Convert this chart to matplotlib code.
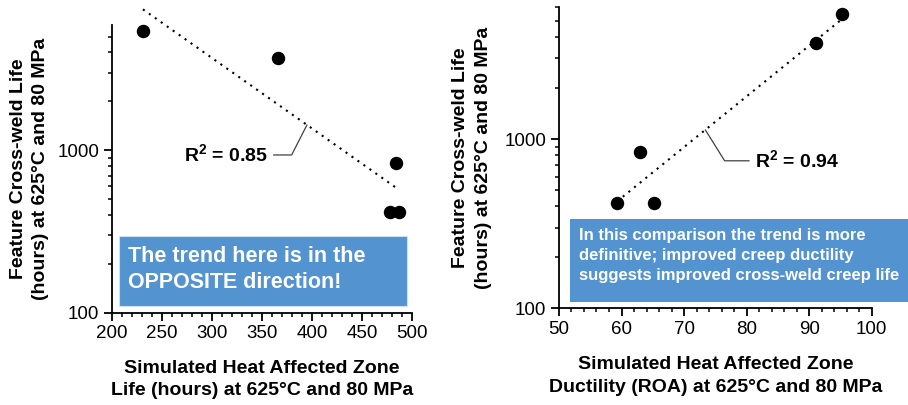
import matplotlib
matplotlib.use("Agg")
import matplotlib.pyplot as plt
import matplotlib.ticker as mticker
from matplotlib.patches import Rectangle
import numpy as np

plt.rcParams['font.family'] = ['Liberation Sans', 'DejaVu Sans']
plt.rcParams['mathtext.fontset'] = 'custom'
plt.rcParams['mathtext.rm'] = 'Liberation Sans'
plt.rcParams['mathtext.bf'] = 'Liberation Sans:bold'

# feature cross-weld life (hours) at 625C / 80 MPa
cw_life = [5450, 3700, 840, 420, 420]
# simulated HAZ life (hours) and ductility (ROA %) for the same samples
haz_life = [231, 366, 484, 478, 487]
haz_roa = [95.3, 91.1, 62.9, 59.3, 65.2]

ylabel = "Feature Cross-weld Life\n(hours) at 625°C and 80 MPa"
xlabel_left = "Simulated Heat Affected Zone\nLife (hours) at 625°C and 80 MPa"
xlabel_right = "Simulated Heat Affected Zone\nDuctility (ROA) at 625°C and 80 MPa"
r2_left = r"R$^{\mathbf{2}}$ = 0.85"
r2_right = r"R$^{\mathbf{2}}$ = 0.94"
note_left = "The trend here is in the\nOPPOSITE direction!"
note_right = ("In this comparison the trend is more\n"
              "definitive; improved creep ductility\n"
              "suggests improved cross-weld creep life")

box_col = '#5393D0'

fig = plt.figure(figsize=(9.08, 4.05), dpi=100)
axL = fig.add_axes([0.1233, 0.2272, 0.3304, 0.711])
axR = fig.add_axes([0.6156, 0.2388, 0.3444, 0.743])


def style(ax, xlim, ylim, xmaj, xmin):
    ax.set_yscale('log')
    ax.set_xlim(*xlim)
    ax.set_ylim(*ylim)
    for s in ['top', 'right']:
        ax.spines[s].set_visible(False)
    for s in ['left', 'bottom']:
        ax.spines[s].set_linewidth(1.3)
    ax.xaxis.set_major_locator(mticker.MultipleLocator(xmaj))
    ax.xaxis.set_minor_locator(mticker.MultipleLocator(xmin))
    ax.yaxis.set_major_locator(mticker.LogLocator(base=10))
    ax.yaxis.set_minor_locator(mticker.LogLocator(base=10, subs=np.arange(2, 10)))
    ax.yaxis.set_major_formatter(mticker.FuncFormatter(lambda v, p: f"{v:g}"))
    ax.yaxis.set_minor_formatter(mticker.NullFormatter())
    ax.tick_params(which='major', length=6, width=1.3, labelsize=13.5, pad=3, direction='out')
    ax.tick_params(which='minor', length=3, width=1.1, direction='out')


def trend(ax, x, y):
    x = np.asarray(x, float)
    ly = np.log10(y)
    k, b = np.polyfit(x, ly, 1)
    xs = np.array([x.min(), x.max()])
    ax.plot(xs, 10 ** (k * xs + b), color='black', lw=1.5,
            linestyle=(0, (1, 2.5)), clip_on=False, zorder=2)
    return lambda v: 10 ** (k * v + b)


def labels(ax, xlabel, xl_x, yl_y):
    ax.text(xl_x, 0.5, ylabel, transform=ax.transAxes, rotation=90, ha='center',
            va='center', multialignment='center', fontsize=14, fontweight='bold',
            linespacing=1.4)
    ax.text(0.5, yl_y, xlabel, transform=ax.transAxes, ha='center', va='top',
            multialignment='center', fontsize=14, fontweight='bold', linespacing=1.4)


# left panel
style(axL, (200, 500), (100, 5900), 50, 10)
axL.scatter(haz_life, cw_life, s=75, color='black', zorder=3, clip_on=False)
fL = trend(axL, haz_life, cw_life)
axL.annotate(r2_left, xy=(395, fL(395)), xytext=(356, 937), textcoords='data',
             ha='right', va='center', fontsize=14, fontweight='bold',
             arrowprops=dict(arrowstyle='-', color='#404040', lw=0.9,
                             shrinkA=2, shrinkB=0,
                             connectionstyle='angle,angleA=0,angleB=63,rad=0'))
axL.add_patch(Rectangle((0.0233, 0.0253), 0.959, 0.243, transform=axL.transAxes,
                        facecolor=box_col, edgecolor='#cfe0f2', lw=0.8, zorder=4))
axL.text(0.0533, 0.234, note_left, transform=axL.transAxes, ha='left', va='top',
         color='white', fontsize=15.5, fontweight='bold', linespacing=1.35, zorder=5)
labels(axL, xlabel_left, -0.275, -0.163)

# right panel
style(axR, (50, 100), (100, 6000), 10, 2)
axR.scatter(haz_roa, cw_life, s=75, color='black', zorder=3, clip_on=False)
fR = trend(axR, haz_roa, cw_life)
axR.annotate(r2_right, xy=(73.4, fR(73.4)), xytext=(81.3, 744), textcoords='data',
             ha='left', va='center', fontsize=14, fontweight='bold',
             arrowprops=dict(arrowstyle='-', color='#404040', lw=0.9,
                             shrinkA=2, shrinkB=0,
                             connectionstyle='angle,angleA=0,angleB=-58,rad=0'))
axR.add_patch(Rectangle((0.0352, 0.0219), 1.1, 0.2738, transform=axR.transAxes,
                        facecolor=box_col, edgecolor='none', zorder=4, clip_on=False))
axR.text(0.064, 0.268, note_right, transform=axR.transAxes, ha='left', va='top',
         color='white', fontsize=12, fontweight='bold', linespacing=1.45, zorder=5)
labels(axR, xlabel_right, -0.278, -0.16)

fig.savefig('out.png', dpi=100)
